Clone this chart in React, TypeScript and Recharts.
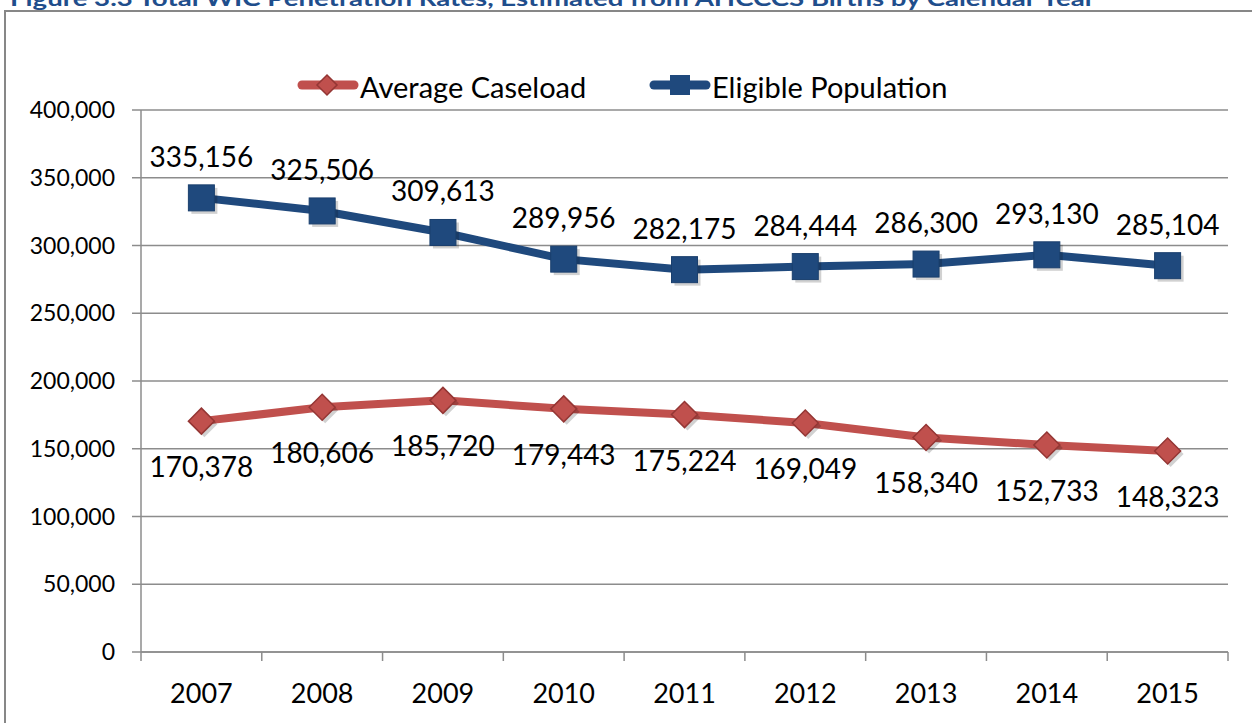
import React from 'react';
import { LineChart, Line, XAxis, YAxis, CartesianGrid, LabelList } from 'recharts';

const years = ['2007', '2008', '2009', '2010', '2011', '2012', '2013', '2014', '2015'];
const averageCaseload = [170378, 180606, 185720, 179443, 175224, 169049, 158340, 152733, 148323];
const eligiblePopulation = [335156, 325506, 309613, 289956, 282175, 284444, 286300, 293130, 285104];
const yTicks = [0, 50000, 100000, 150000, 200000, 250000, 300000, 350000, 400000];
const seriesNames = ['Average Caseload', 'Eligible Population'];
const titleText = 'Figure 3.3 Total WIC Penetration Rates, Estimated from AHCCCS Births by Calendar Year';

const data = years.map((y, i) => ({ idx: i, year: y, caseload: averageCaseload[i], eligible: eligiblePopulation[i] }));

const RED = '#C0504D';
const RED_DARK = '#943634';
const BLUE = '#1F497D';
const GRID = '#8c8c8c';
const FONT = 'Lato, "Open Sans", sans-serif';

const W = 1252;
const H = 723;
const PLOT_LEFT = 141;
const PLOT_RIGHT = 1228;
const PLOT_TOP = 110;
const PLOT_BOTTOM = 652;
const X_AXIS_H = 50;
const STEP = (PLOT_RIGHT - PLOT_LEFT) / years.length;

const fmt = (v: number) => v.toLocaleString('en-US');

const SquareDot = (props: any) => {
  const { cx, cy } = props;
  if (cx == null || cy == null) return null;
  const s = 26;
  return (
    <g>
      <rect x={cx - s / 2 + 3} y={cy - s / 2 + 3} width={s} height={s} fill="#000" opacity={0.18} />
      <rect x={cx - s / 2} y={cy - s / 2} width={s} height={s} fill={BLUE} stroke="#1a3f6d" strokeWidth={1} />
    </g>
  );
};

const DiamondDot = (props: any) => {
  const { cx, cy } = props;
  if (cx == null || cy == null) return null;
  const r = 13;
  const pts = (dx: number, dy: number) =>
    `${cx + dx},${cy - r + dy} ${cx + r + dx},${cy + dy} ${cx + dx},${cy + r + dy} ${cx - r + dx},${cy + dy}`;
  return (
    <g>
      <polygon points={pts(3, 3)} fill="#000" opacity={0.18} />
      <polygon points={pts(0, 0)} fill={RED} stroke={RED_DARK} strokeWidth={1.5} />
    </g>
  );
};

const makeLabel = (dy: number) => (props: any) => {
  const { x, y, value } = props;
  return (
    <text x={x} y={y + dy} textAnchor="middle" dominantBaseline="central" fontSize={28} fontFamily={FONT} fill="#000">
      {fmt(value)}
    </text>
  );
};

const XTick = (props: any) => {
  const { x, payload, index } = props;
  const y = PLOT_BOTTOM;
  const label = years[payload.value] ?? '';
  return (
    <g>
      <line x1={x - STEP / 2} y1={y} x2={x - STEP / 2} y2={y + 9} stroke={GRID} strokeWidth={1.5} />
      {index === years.length - 1 && (
        <line x1={x + STEP / 2} y1={y} x2={x + STEP / 2} y2={y + 9} stroke={GRID} strokeWidth={1.5} />
      )}
      <text x={x} y={y + 40} textAnchor="middle" dominantBaseline="central" fontSize={27} fontFamily={FONT} fill="#000">
        {label}
      </text>
    </g>
  );
};

const LegendOverlay = () => (
  <svg width={W} height={120} style={{ position: 'absolute', left: 0, top: 0 }}>
    <g>
      <line x1={302} y1={85} x2={354} y2={85} stroke={RED} strokeWidth={9} strokeLinecap="round" />
      <polygon points="327,75 337,85 327,95 317,85" fill={RED} stroke={RED_DARK} strokeWidth={1.5} />
      <text x={360} y={86} dominantBaseline="central" fontSize={29} fontFamily={FONT} fill="#000">
        {seriesNames[0]}
      </text>
    </g>
    <g>
      <line x1={654} y1={85} x2={706} y2={85} stroke={BLUE} strokeWidth={9} strokeLinecap="round" />
      <rect x={670} y={75} width={20} height={20} fill={BLUE} />
      <text x={712} y={86} dominantBaseline="central" fontSize={29} fontFamily={FONT} fill="#000">
        {seriesNames[1]}
      </text>
    </g>
  </svg>
);

export default function App() {
  return (
    <div style={{ position: 'fixed', left: 0, top: 0, width: W, height: H, overflow: 'hidden', background: '#fff' }}>
      <svg width={W} height={30} style={{ position: 'absolute', left: 0, top: 0 }}>
        <text x={10} y={6} fontSize={20} fontWeight="bold" fontFamily={FONT} fill="#1F4E8C" textLength={1085} lengthAdjust="spacingAndGlyphs">
          {titleText}
        </text>
      </svg>
      <div
        style={{
          position: 'absolute',
          left: 4,
          top: 10,
          width: 1400,
          height: 900,
          border: '2px solid #878787',
          boxSizing: 'border-box',
        }}
      />
      <div style={{ position: 'absolute', left: 0, top: 0 }}>
        <LineChart
          width={W}
          height={H}
          data={data}
          margin={{ top: PLOT_TOP, right: W - PLOT_RIGHT, bottom: H - PLOT_BOTTOM - X_AXIS_H, left: 0 }}
        >
          <CartesianGrid horizontal vertical={false} stroke={GRID} strokeWidth={1.5} />
          <XAxis
            dataKey="idx"
            type="number"
            domain={[-0.5, years.length - 0.5]}
            ticks={years.map((_, i) => i)}
            interval={0}
            height={X_AXIS_H}
            tickSize={0}
            tickMargin={0}
            tickLine={false}
            axisLine={{ stroke: GRID, strokeWidth: 1.5 }}
            tick={<XTick />}
          />
          <YAxis
            width={PLOT_LEFT}
            domain={[0, 400000]}
            ticks={yTicks}
            interval={0}
            tickSize={9}
            tickMargin={17}
            tickFormatter={(v: number) => fmt(v)}
            tick={{ fontSize: 23, fontFamily: FONT, fill: '#000' }}
            tickLine={{ stroke: GRID, strokeWidth: 1.5 }}
            axisLine={{ stroke: GRID, strokeWidth: 1.5 }}
          />
          <Line
            dataKey="caseload"
            name={seriesNames[0]}
            stroke={RED}
            strokeWidth={8}
            dot={<DiamondDot />}
            activeDot={false}
            isAnimationActive={false}
          >
            <LabelList dataKey="caseload" content={makeLabel(45)} />
          </Line>
          <Line
            dataKey="eligible"
            name={seriesNames[1]}
            stroke={BLUE}
            strokeWidth={8}
            dot={<SquareDot />}
            activeDot={false}
            isAnimationActive={false}
          >
            <LabelList dataKey="eligible" content={makeLabel(-42)} />
          </Line>
        </LineChart>
      </div>
      <LegendOverlay />
    </div>
  );
}
